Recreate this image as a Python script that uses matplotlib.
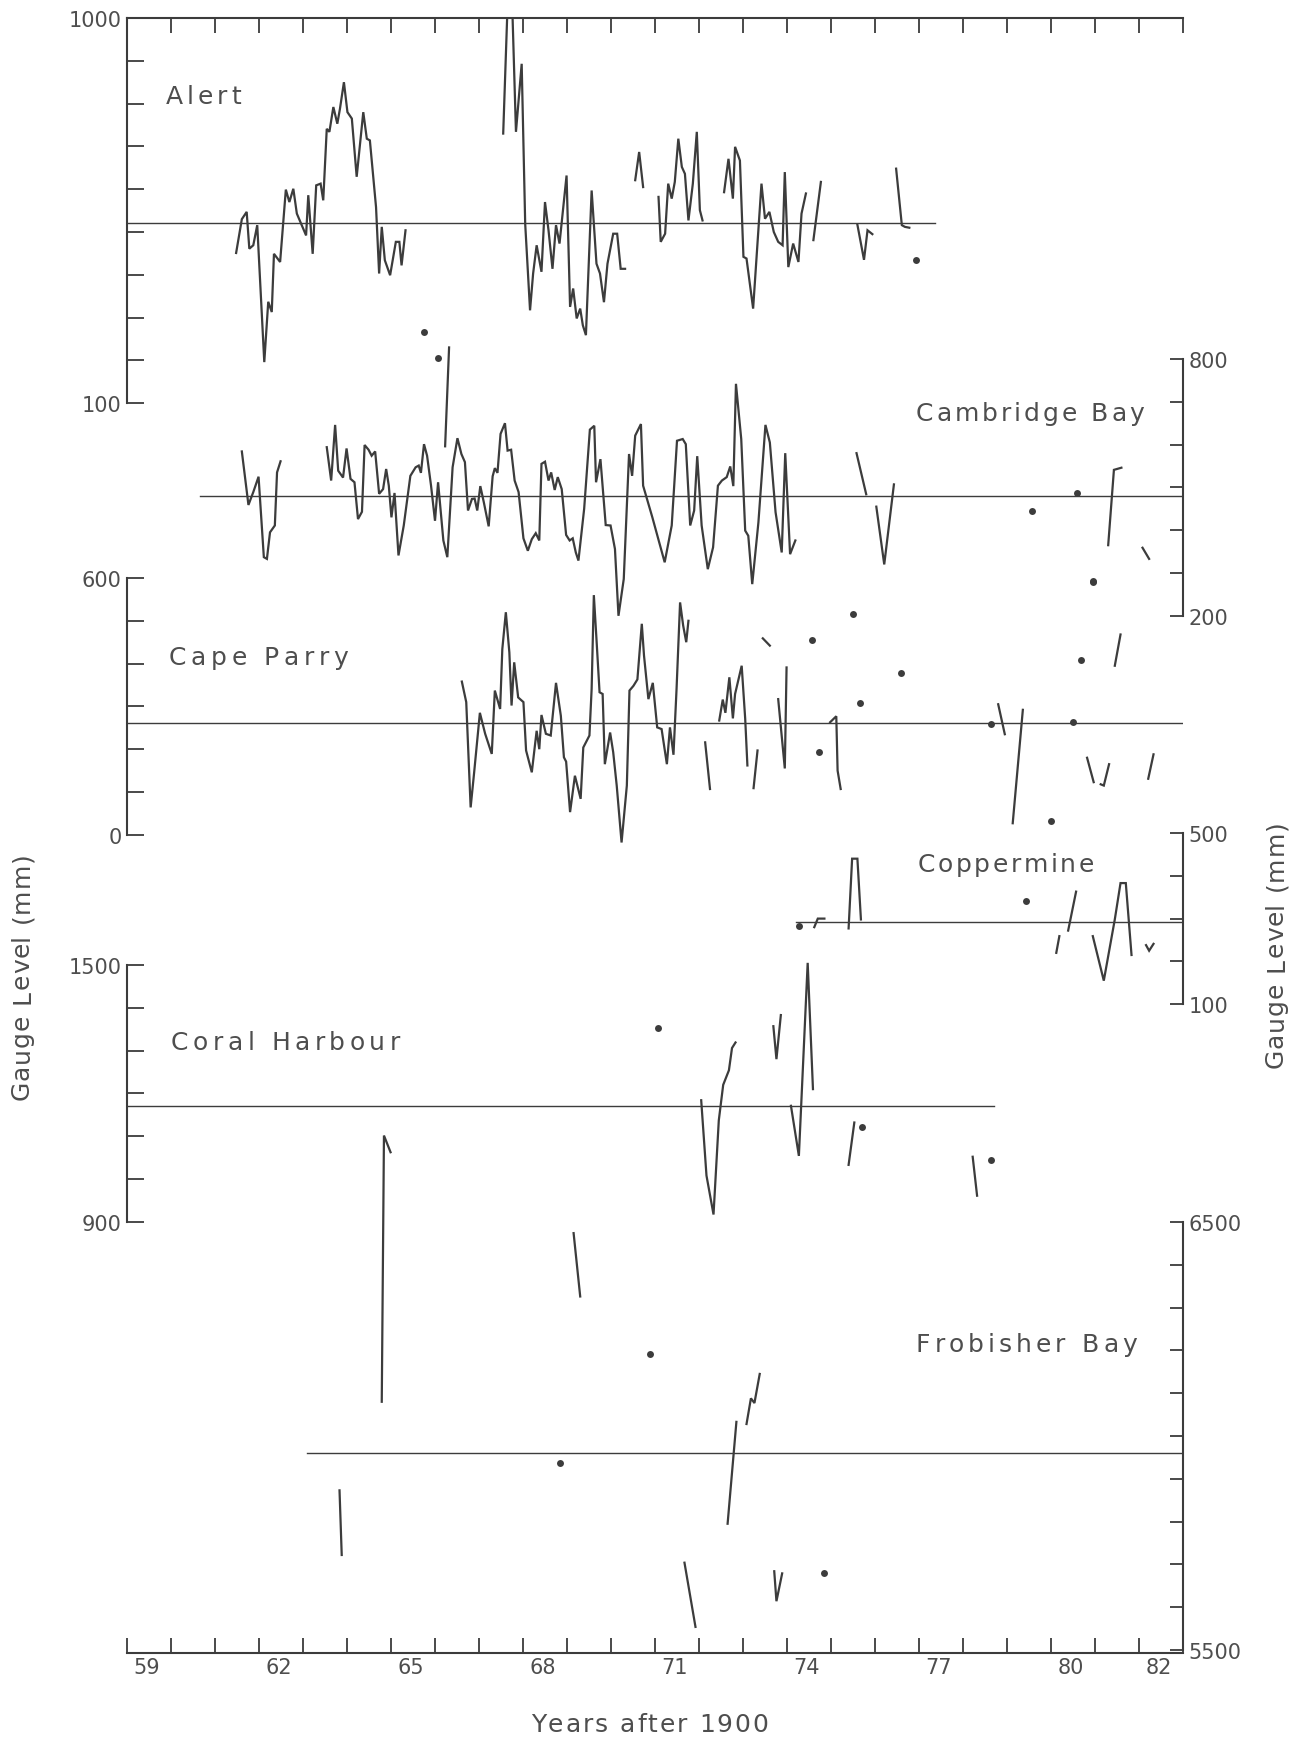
import matplotlib.pyplot as plt

# ---------------- data: years after 1900 / gauge level (mm) ----------------
# each station: list of (years, mm) line pieces, isolated monthly dots, mean line

alert_segments = [
    ([61.48, 61.61, 61.72, 61.78, 61.87, 61.96, 62.12, 62.21, 62.29, 62.34, 62.48,
      62.61, 62.69, 62.78, 62.86, 63.07, 63.12, 63.22, 63.30, 63.40, 63.46, 63.54,
      63.60, 63.69, 63.78, 63.84, 63.93, 64.01, 64.11, 64.22, 64.37, 64.45, 64.52,
      64.66, 64.73, 64.79, 64.86, 64.98, 65.11, 65.19, 65.24, 65.33],
     [451, 530, 547, 461, 469, 516, 196, 337, 313, 449, 430,
      599, 570, 601, 543, 492, 586, 449, 609, 613, 574, 741,
      734, 792, 753, 788, 850, 780, 765, 629, 780, 718, 714,
      558, 403, 512, 434, 399, 477, 477, 422, 504]),
    ([67.55, 67.64, 67.76, 67.84, 67.97, 68.05, 68.16, 68.23, 68.31, 68.42, 68.50,
      68.58, 68.67, 68.75, 68.83, 68.99, 69.07, 69.14, 69.22, 69.30, 69.36, 69.43,
      69.56, 69.67, 69.75, 69.84, 69.92, 70.05, 70.14, 70.22, 70.32],
     [730, 1002, 1012, 734, 893, 519, 317, 403, 469, 407, 570,
      504, 414, 516, 473, 632, 325, 368, 298, 321, 282, 259,
      597, 426, 403, 336, 426, 496, 496, 414, 414]),
    ([70.55, 70.64, 70.73], [621, 687, 605]),
    ([71.08, 71.13, 71.23, 71.30, 71.38, 71.45, 71.53, 71.61, 71.68, 71.76, 71.86,
      71.95, 72.02, 72.08],
     [582, 477, 496, 613, 578, 617, 718, 652, 636, 527, 613, 734, 551, 527]),
    ([72.57, 72.67, 72.77, 72.82, 72.93, 73.01, 73.08, 73.23, 73.42, 73.50, 73.60,
      73.70, 73.80, 73.90, 73.95, 74.03, 74.14, 74.26, 74.33, 74.43],
     [593, 671, 578, 699, 667, 442, 438, 321, 613, 531, 547,
      500, 477, 469, 640, 418, 473, 430, 543, 590]),
    ([74.60, 74.77], [481, 617]),
    ([75.60, 75.75, 75.83, 75.94], [517, 435, 504, 495]),
    ([76.48, 76.61, 76.68, 76.78], [648, 516, 512, 510]),
]
alert_dots = ([76.93], [434])
alert_mean = (522, 59.0, 77.36)

cambridge_segments = [
    ([61.61, 61.76, 61.87, 61.99, 62.11, 62.18, 62.25, 62.36, 62.41, 62.49],
     [584, 459, 489, 525, 337, 333, 395, 411, 535, 561]),
    ([63.54, 63.64, 63.73, 63.80, 63.91, 63.99, 64.08, 64.17, 64.25, 64.34, 64.40,
      64.49, 64.56, 64.64, 64.73, 64.82, 64.89, 64.95, 65.01, 65.08, 65.17, 65.29,
      65.44, 65.56, 65.63, 65.68, 65.75, 65.82, 65.91, 66.00, 66.07, 66.19, 66.28,
      66.40, 66.51, 66.60, 66.68, 66.75, 66.84, 66.90, 66.96, 67.03, 67.11, 67.22,
      67.31, 67.36, 67.42, 67.49, 67.59, 67.65, 67.73, 67.81, 67.90, 68.01, 68.11,
      68.20, 68.29, 68.37, 68.42, 68.50, 68.58, 68.64, 68.72, 68.79, 68.88, 68.98,
      69.06, 69.13, 69.20, 69.26, 69.39, 69.52, 69.62, 69.66, 69.76, 69.88, 69.99,
      70.09, 70.17, 70.29, 70.41, 70.48, 70.55, 70.68, 70.73, 70.94, 71.22, 71.38,
      71.50, 71.63, 71.70, 71.80, 71.89, 71.96, 72.06, 72.20, 72.32, 72.43, 72.52,
      72.63, 72.71, 72.78, 72.84, 72.96, 73.05, 73.12, 73.21, 73.35, 73.51, 73.61,
      73.74, 73.88, 73.96, 74.07, 74.19],
     [594, 516, 646, 539, 523, 591, 520, 512, 426, 443, 599,
      588, 574, 584, 485, 496, 543, 504, 430, 487, 341, 411,
      527, 547, 551, 534, 601, 574, 504, 422, 512, 376, 337,
      547, 615, 578, 559, 446, 473, 474, 446, 503, 465, 409,
      526, 545, 534, 625, 650, 586, 588, 516, 489, 381, 352,
      379, 393, 376, 555, 560, 516, 535, 494, 524, 496, 389,
      376, 381, 348, 329, 450, 635, 644, 512, 566, 412, 411,
      356, 200, 286, 578, 527, 621, 648, 504, 430, 325, 411,
      609, 613, 601, 411, 446, 573, 411, 309, 360, 504, 516,
      524, 549, 503, 742, 613, 399, 387, 274, 418, 646, 605,
      442, 348, 580, 344, 376]),
    ([66.23, 66.32], [596, 827]),
    ([75.58, 75.80], [580, 484]),
    ([76.03, 76.21, 76.43], [455, 320, 507]),
    ([81.30, 81.43, 81.60], [365, 541, 546]),
    ([82.08, 82.23], [359, 333]),
]
cambridge_dots = ([65.74, 66.07, 79.56, 80.59, 80.95], [864, 802, 445, 486, 282])
cambridge_mean = (480, 60.65, 83.0)

cape_parry_segments = [
    ([66.61, 66.71, 66.81, 66.89, 67.02, 67.14, 67.29, 67.36, 67.48, 67.53, 67.61,
      67.69, 67.74, 67.80, 67.89, 68.01, 68.07, 68.20, 68.31, 68.37, 68.42, 68.52,
      68.63, 68.75, 68.86, 68.93, 68.98, 69.07, 69.18, 69.31, 69.37, 69.51, 69.56,
      69.61, 69.67, 69.74, 69.81, 69.86, 69.98, 70.05, 70.13, 70.24, 70.36, 70.42,
      70.51, 70.60, 70.70, 70.75, 70.85, 70.95, 71.05, 71.15, 71.27, 71.34, 71.42,
      71.49, 71.57, 71.64, 71.71, 71.76],
     [358, 310, 64, 146, 285, 236, 189, 337, 294, 434, 520,
      426, 302, 403, 321, 310, 197, 146, 243, 200, 280, 236,
      232, 355, 278, 181, 171, 53, 138, 84, 204, 232, 341,
      560, 457, 333, 329, 165, 239, 193, 115, -18, 115, 337,
      348, 363, 493, 419, 317, 355, 251, 247, 165, 251, 187,
      341, 543, 489, 450, 500]),
    ([72.14, 72.25], [216, 107]),
    ([72.46, 72.54, 72.60, 72.69, 72.77, 72.82, 72.97, 73.05, 73.10],
     [267, 316, 285, 368, 272, 329, 395, 271, 162]),
    ([73.24, 73.33], [109, 197]),
    ([73.45, 73.61], [459, 442]),
    ([73.80, 73.95, 73.99], [317, 155, 391]),
    ([74.98, 75.12, 75.15, 75.22], [263, 277, 150, 107]),
    ([78.80, 78.95], [305, 235]),
    ([79.36, 79.13], [292, 27]),
    ([80.82, 80.97], [180, 123]),
    ([81.13, 81.20, 81.32], [118, 115, 165]),
    ([81.45, 81.58], [395, 468]),
    ([82.21, 82.33], [131, 188]),
]
cape_parry_dots = ([74.56, 74.73, 75.50, 75.65, 76.59, 78.63, 80.01, 80.49, 80.69, 80.95],
                   [455, 193, 517, 307, 377, 260, 32, 263, 408, 590])
cape_parry_mean = (262, 59.0, 83.0)

coppermine_segments = [
    ([74.62, 74.70, 74.85], [280, 300, 300]),
    ([75.40, 75.48, 75.60, 75.68], [277, 440, 440, 298]),
    ([80.12, 80.19], [220, 259]),
    ([80.39, 80.57], [272, 363]),
    ([80.95, 81.20, 81.45, 81.58, 81.70, 81.83], [259, 155, 298, 383, 383, 215]),
    ([82.16, 82.23, 82.33], [238, 225, 241]),
]
coppermine_dots = ([74.27, 79.43], [282, 342])
coppermine_mean = (292, 74.2, 83.0)

coral_segments = [
    ([72.05, 72.17, 72.33, 72.45, 72.55, 72.68, 72.75, 72.83],
     [1184, 1008, 917, 1137, 1220, 1254, 1306, 1319]),
    ([73.69, 73.76, 73.86], [1357, 1280, 1383]),
    ([74.09, 74.27, 74.47, 74.59], [1171, 1054, 1505, 1210]),
    ([75.40, 75.53], [1033, 1132]),
    ([78.22, 78.32], [1052, 961]),
]
coral_dots = ([71.06, 75.70, 78.63], [1352, 1122, 1044])
coral_mean = (1171, 59.0, 78.7)

frobisher_segments = [
    ([63.83, 63.88], [5873, 5722]),
    ([64.79, 64.84, 64.99], [6080, 6702, 6663]),
    ([69.15, 69.30], [6474, 6326]),
    ([71.67, 71.92], [5704, 5554]),
    ([72.65, 72.85], [5795, 6033]),
    ([73.08, 73.18, 73.26, 73.38], [6028, 6088, 6077, 6145]),
    ([73.71, 73.76, 73.89], [5684, 5614, 5679]),
]
frobisher_dots = ([68.85, 70.89, 74.85], [5938, 6192, 5679])
frobisher_mean = (5960, 63.1, 83.0)

year_labels = [59, 62, 65, 68, 71, 74, 77, 80, 82]

# ---------------- layout ----------------
W_PX, H_PX = 1299, 1740
AX_L, AX_R, AX_T, AX_B = 127, 1183, 19, 1654     # frame in pixels
PX_PER_MM = 0.428                                 # same mm scale for every band
INK = '#3c3c3c'
TXT = '#4e4e4e'

# name, axis side, (low, high) ticks, pixel row of high tick, label x / baseline px, label width
stations = [
    ('Alert', 'left', (100, 1000), 19, (166, 104), 75,
     alert_segments, alert_dots, alert_mean),
    ('Cambridge Bay', 'right', (200, 800), 360, (916, 421), 228,
     cambridge_segments, cambridge_dots, cambridge_mean),
    ('Cape Parry', 'left', (0, 600), 579, (169, 665), 179,
     cape_parry_segments, cape_parry_dots, cape_parry_mean),
    ('Coppermine', 'right', (100, 500), 834, (918, 872), 176,
     coppermine_segments, coppermine_dots, coppermine_mean),
    ('Coral Harbour', 'left', (900, 1500), 966, (171, 1050), 229,
     coral_segments, coral_dots, coral_mean),
    ('Frobisher Bay', 'right', (5500, 6500), 1223, (916, 1352), 221,
     frobisher_segments, frobisher_dots, frobisher_mean),
]


def band_limits(v_top, y_px):
    top = v_top + (y_px - AX_T) / PX_PER_MM
    bottom = v_top - (AX_B - y_px) / PX_PER_MM
    return bottom, top


fig = plt.figure(figsize=(W_PX / 100, H_PX / 100), dpi=100)
renderer = fig.canvas.get_renderer()


def spaced_text(x_px, y_px, s, size, total_px, vertical=False):
    # hand lettering look: glyphs spread out to a given total length
    kw = dict(fontsize=size, color=TXT, rotation=90 if vertical else 0,
              rotation_mode='anchor', ha='left', va='baseline')
    space = 0.33 * size * 100 / 72
    arts, widths = [], []
    for ch in s:
        if ch == ' ':
            arts.append(None)
            widths.append(space)
            continue
        t = fig.text(0, 0, ch, **kw)
        bb = t.get_window_extent(renderer)
        arts.append(t)
        widths.append(bb.height if vertical else bb.width)
    gap = (total_px - sum(widths)) / (len(s) - 1)
    pos = 0.0
    for t, w in zip(arts, widths):
        if t is not None:
            if vertical:
                t.set_position((x_px / W_PX, 1 - (y_px - pos) / H_PX))
            else:
                t.set_position(((x_px + pos) / W_PX, 1 - y_px / H_PX))
        pos += w + gap


rect = [AX_L / W_PX, 1 - AX_B / H_PX, (AX_R - AX_L) / W_PX, (AX_B - AX_T) / H_PX]

base = fig.add_axes(rect)
base.set_xlim(59, 83)
base.set_ylim(0, 1)
base.set_yticks([])
base.spines['left'].set_visible(False)
base.spines['right'].set_visible(False)
for side in ('top', 'bottom'):
    base.spines[side].set_color(INK)
    base.spines[side].set_linewidth(1.5)
base.set_xticks([y + 0.45 for y in year_labels])
base.set_xticklabels([str(y) for y in year_labels])
base.set_xticks(range(59, 84), minor=True)
base.tick_params(axis='x', which='major', length=0, pad=3, labelsize=15, labelcolor=TXT)
base.tick_params(axis='x', which='minor', direction='in', length=11, width=1.3,
                 color=INK, top=True, bottom=True)

for name, side, (lo, hi), y_px, (lx, ly), lw_px, segs, dots, mean in stations:
    ax = fig.add_axes(rect, sharex=base)
    ax.patch.set_visible(False)
    for sp in ax.spines.values():
        sp.set_visible(False)
    ax.spines[side].set_visible(True)
    ax.spines[side].set_bounds(lo, hi)
    ax.spines[side].set_color(INK)
    ax.spines[side].set_linewidth(1.5)
    ax.set_ylim(*band_limits(hi, y_px))
    ax.tick_params(axis='x', which='both', bottom=False, top=False, labelbottom=False)
    if side == 'left':
        ax.yaxis.tick_left()
        tick_len = 12
    else:
        ax.yaxis.tick_right()
        tick_len = 9.5
    ax.set_yticks([lo, hi])
    ax.set_yticklabels([str(lo), str(hi)])
    ax.set_yticks(range(lo, hi + 1, 100), minor=True)
    ax.tick_params(axis='y', which='both', direction='in', length=tick_len, width=1.3,
                   color=INK, pad=4, labelsize=15, labelcolor=TXT)

    mv, x0, x1 = mean
    ax.plot([x0, x1], [mv, mv], color=INK, lw=1.0)
    for yrs, mm in segs:
        ax.plot(yrs, mm, color=INK, lw=1.6, solid_joinstyle='miter')
    ax.plot(dots[0], dots[1], 'o', color=INK, ms=5, mec='none')

    spaced_text(lx, ly, name, 18, lw_px)

spaced_text(29, 1100, 'Gauge Level (mm)', 18, 248, vertical=True)
spaced_text(1283, 1068, 'Gauge Level (mm)', 18, 248, vertical=True)
spaced_text(531, 1732, 'Years after 1900', 18, 237)

fig.savefig('out.png', dpi=100)
